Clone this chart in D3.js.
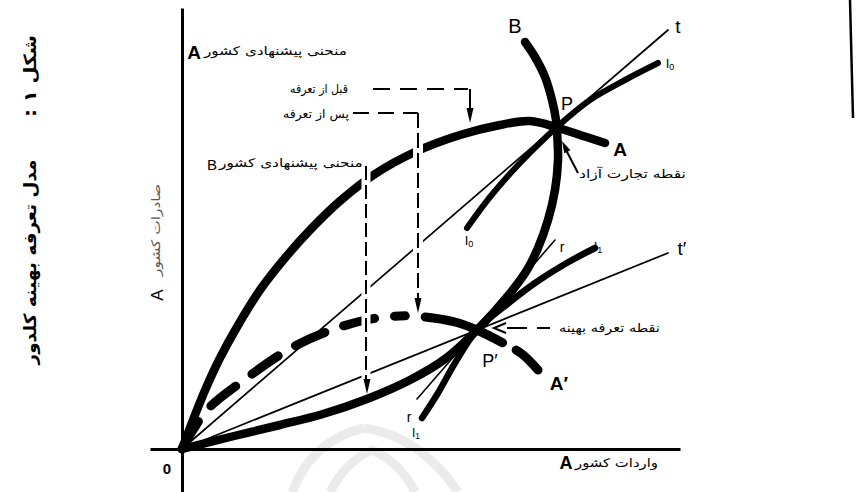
<!DOCTYPE html>
<html>
<head>
<meta charset="utf-8">
<script src="https://cdn.jsdelivr.net/npm/d3@7"></script>
<style>
  html, body { margin: 0; padding: 0; background: #fff; }
  svg { display: block; }
</style>
</head>
<body>
<svg id="chart" width="856" height="492"></svg>
<script>
// Offer curves (imports of A on x, exports of A on y)
const offerA = [[0,0],[0.22,0.58],[0.48,1.22],[0.76,1.82],[1.10,2.44],[1.56,3.18],[2.06,3.82],[2.56,4.38],[3.16,4.96],[3.86,5.50],[4.66,5.94],[5.56,6.28],[6.36,6.48],[6.96,6.56],[7.50,6.43],[7.96,6.28],[8.46,6.12]];
const offerATariff = [[0,0],[0.50,0.78],[1.16,1.32],[2.22,2.04],[3.16,2.44],[3.90,2.62],[4.62,2.66],[5.46,2.54],[5.90,2.38],[6.42,2.12],[6.80,1.90],[7.12,1.58]];
const offerB = [[0,0],[0.96,0.24],[1.96,0.48],[2.82,0.70],[3.70,1.00],[4.56,1.38],[5.26,1.80],[5.90,2.38],[6.50,3.04],[6.90,3.58],[7.12,4.02],[7.32,4.58],[7.46,5.18],[7.52,5.78],[7.51,6.18],[7.48,6.58],[7.40,6.98],[7.26,7.44],[7.06,7.84],[6.86,8.14]];
// Trade indifference curves
const indiffI0 = [[5.70,4.42],[6.16,5.04],[6.76,5.72],[7.50,6.44],[8.16,6.98],[8.86,7.38],[9.52,7.72]];
const indiffI1 = [[4.80,0.62],[5.12,1.12],[5.46,1.72],[5.90,2.38],[6.56,2.94],[7.06,3.32],[7.66,3.70],[8.26,4.02]];
// Terms-of-trade rays and tangent
const rayT = [[0,0],[9.72,8.38]];
const rayT2 = [[0,0],[9.72,3.92]];
const lineR = [[4.70,1.00],[7.46,4.18]];

const svg = d3.select('#chart');
const x = d3.scaleLinear().domain([0,10]).range([182,682]);
const y = d3.scaleLinear().domain([0,9]).range([449,-1]);

const FA = 'DejaVu Sans, sans-serif';
const FL = 'Liberation Sans, Arial, sans-serif';

// faint watermark at the bottom
const wm = svg.append('g').attr('fill','none').attr('stroke','#ebebeb').attr('stroke-width',9);
wm.append('path').attr('d','M292,492 Q312,440 364,428');
wm.append('path').attr('d','M364,428 Q420,436 458,492');
wm.append('path').attr('d','M330,492 Q345,462 372,450 Q400,462 415,492');

// axes
const xAxisScale = x.copy().domain([-0.64, 9.96]).range([x(-0.64), x(9.96)]);
const yAxisScale = y.copy().domain([-0.86, 8.82]).range([y(-0.86), y(8.82)]);
const gx = svg.append('g').attr('transform', `translate(0,${y(0)})`)
  .call(d3.axisBottom(xAxisScale).tickValues([]).tickSizeOuter(0));
const gy = svg.append('g').attr('transform', `translate(${x(0)},0)`)
  .call(d3.axisLeft(yAxisScale).tickValues([]).tickSizeOuter(0));
[gx, gy].forEach(g => g.select('.domain').attr('stroke','#000').attr('stroke-width',3));

const line = d3.line().x(d => x(d[0])).y(d => y(d[1])).curve(d3.curveCatmullRom.alpha(0.5));
const straight = d3.line().x(d => x(d[0])).y(d => y(d[1]));

const marks = svg.append('g').attr('fill','none').attr('stroke','#000').attr('stroke-linecap','round');

// thin rays
marks.append('path').attr('d', straight(rayT)).attr('stroke-width',1.7);
marks.append('path').attr('d', straight(rayT2)).attr('stroke-width',1.7);
marks.append('path').attr('d', straight(lineR)).attr('stroke-width',1.6);

// indifference curves
marks.append('path').attr('d', line(indiffI0)).attr('stroke-width',6);
marks.append('path').attr('d', line(indiffI1)).attr('stroke-width',6.5);

// offer curves
marks.append('path').attr('d', line(offerA)).attr('stroke-width',8.5);
marks.append('path').attr('d', line(offerB)).attr('stroke-width',8.5);
const pT = marks.append('path').attr('d', line(offerATariff)).attr('stroke-width',9);

// dash layout for the post-tariff offer curve: dashed, solid near P', short break, last dash
(function(){
  const node = pT.node();
  const L = node.getTotalLength();
  const lenAtX = px => { for (let s = 0; s <= L; s += 0.5) { if (node.getPointAtLength(s).x >= px) return s; } return L; };
  const Ls = lenAtX(x(4.86)), Lg1 = lenAtX(x(6.40)), Lg2 = lenAtX(x(6.68));
  const arr = []; let pos = 0;
  while (pos + 52 <= Ls - 20) { arr.push(32, 20); pos += 52; }
  const rest = Ls - 20 - pos;
  if (rest > 0) { arr.push(rest, 20); } else { arr.push(0, Ls - pos); }
  arr.push(Lg1 - Ls, Lg2 - Lg1, L - Lg2 + 5, 50);
  pT.attr('stroke-dasharray', arr.join(','));
})();

// leader lines with white halo where they cross the curves
const lead = svg.append('g');
function halo(pts, w) {
  lead.append('path').attr('d', d3.line()(pts)).attr('fill','none').attr('stroke','#fff').attr('stroke-width', w);
}
function dashed(pts, dash, w) {
  lead.append('path').attr('d', d3.line()(pts)).attr('fill','none').attr('stroke','#000')
    .attr('stroke-width', w || 1.8).attr('stroke-dasharray', dash || null);
}
function head(tx, ty, dir, len, wid) {
  const bx = tx - len*Math.cos(dir), by = ty - len*Math.sin(dir);
  const nx = -Math.sin(dir)*wid/2, ny = Math.cos(dir)*wid/2;
  lead.append('path').attr('d', `M${tx},${ty}L${bx+nx},${by+ny}L${bx-nx},${by-ny}Z`).attr('fill','#000');
}
// before tariff
dashed([[373,89],[468,89]], '17,10', 2);
dashed([[470,89],[470,110]], null, 2);
head(470, 123, Math.PI/2, 15, 7);
// after tariff
dashed([[353,113],[418,113]], '16,9', 2);
halo([[418,125],[418,298]], 10);
dashed([[418,113],[418,300]], '15,5', 2);
head(418, 313, Math.PI/2, 15, 7);
// offer curve of B
halo([[366,170],[366,378]], 9);
dashed([[366,166],[366,380]], '14,5', 2);
head(367, 394, Math.PI/2, 15, 7);
// free trade point
dashed([[578,173],[565,148]], null, 2);
head(562, 141, Math.atan2(141-173, 562-578), 12, 7);
// optimal tariff point
dashed([[507,328],[550,328]], '20,10', 2);
lead.append('path').attr('d','M506,323L494,328L506,333').attr('fill','none').attr('stroke','#000').attr('stroke-width',2);

// text
const txt = svg.append('g');
function label(str, o) {
  const g = txt.append('g').attr('transform', `translate(${o.x},${o.y}) rotate(${o.rot || 0})`);
  const t = g.append('text').attr('text-anchor', o.anchor || 'middle')
    .attr('font-family', o.font || FL).attr('font-size', o.size || 16)
    .attr('font-weight', o.weight || 'normal').attr('fill', o.fill || '#000').text(str);
  if (o.rtl) t.attr('direction', 'rtl');
  if (o.w) {
    const m = t.node().getComputedTextLength();
    if (m > 0) t.attr('transform', `scale(${o.w/m},1)`);
  }
  return t;
}
// Persian label whose left edge sits at x
function fa(str, o) {
  return label(str, Object.assign({font: FA, size: 12, rtl: true, anchor: 'end'}, o));
}
function sub(main, s, o) {
  const t = label('', o);
  t.append('tspan').text(main);
  t.append('tspan').attr('font-size', (o.size || 14)*0.7).attr('dy', 2).text(s);
}

// side titles
label('شکل ۱ :', {x: 36, y: 76, rot: -90, font: FA, size: 17, weight: 'bold', rtl: true, w: 82});
label('مدل تعرفه بهینه کلدور', {x: 36, y: 262, rot: -90, font: FA, size: 17, weight: 'bold', rtl: true, w: 205});

// axis titles
label('صادرات کشور', {x: 160, y: 230, rot: -90, font: FA, size: 12, fill: '#555', rtl: true, w: 92});
label('A', {x: 163, y: 295, rot: -90, size: 17});
fa('واردات کشور', {x: 575, y: 467, w: 83});
label('A', {x: 566, y: 469, size: 18, weight: 'bold'});
label('0', {x: 167, y: 474, size: 15, weight: 'bold'});

// curve annotations
fa('منحنی پیشنهادی کشور', {x: 204, y: 55, w: 143});
label('A', {x: 194, y: 59, size: 19, weight: 'bold'});
fa('قبل از تعرفه', {x: 290, y: 93, w: 58});
fa('پس از تعرفه', {x: 283, y: 118, w: 66});
fa('منحنی پیشنهادی کشور', {x: 219, y: 167, w: 144});
label('B', {x: 212, y: 170, size: 15});
fa('نقطه تجارت آزاد', {x: 579, y: 178, w: 107});
fa('نقطه تعرفه بهینه', {x: 559, y: 332, w: 101});

// point and curve letters
label('B', {x: 515, y: 33, size: 20});
label('P', {x: 567, y: 110, size: 18});
label('A', {x: 620, y: 156, size: 19, weight: 'bold'});
label('t', {x: 678, y: 33, size: 19});
sub('I', '0', {x: 670, y: 68, size: 13});
sub('I', '0', {x: 469, y: 245, size: 13});
label('P′', {x: 490, y: 367, size: 18});
label('A′', {x: 559, y: 390, size: 19, weight: 'bold'});
label('t′', {x: 682, y: 255, size: 19});
label('r', {x: 562, y: 252, size: 14});
sub('I', '1', {x: 598, y: 251, size: 13});
label('r', {x: 409, y: 422, size: 14});
sub('I', '1', {x: 416, y: 437, size: 12});

// frame edge at the right
svg.append('path').attr('d','M850,0L853,118').attr('stroke','#000').attr('stroke-width',2.5).attr('fill','none');
</script>
</body>
</html>
